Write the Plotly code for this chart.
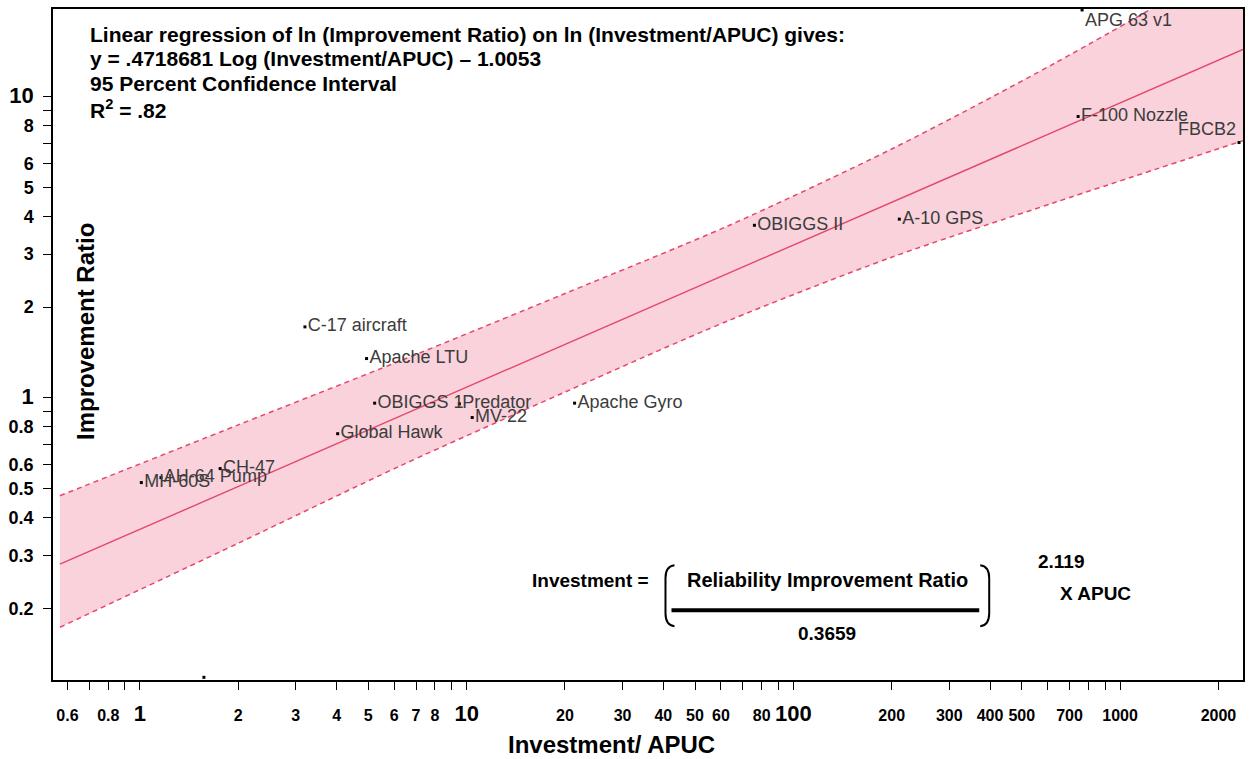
import math
import plotly.graph_objects as go

# Reliability programs: investment/APUC versus improvement ratio
programs = ["MH-60S", "AH-64 Pump", "CH-47", "C-17 aircraft", "Apache LTU", "OBIGGS 1",
            "Predator", "MV-22", "Global Hawk", "Apache Gyro", "OBIGGS II", "A-10 GPS",
            "F-100 Nozzle", "FBCB2", "APG 63 v1", ""]
investment_apuc = [1.01, 1.16, 1.76, 3.2, 4.94, 5.23, 9.5, 10.4, 4.03, 21.4, 76, 211,
                   744, 2312, 765, 1.57]
improvement_ratio = [0.523, 0.543, 0.582, 1.72, 1.35, 0.96, 0.955, 0.86, 0.76, 0.96, 3.74,
                     3.92, 8.59, 7.04, 19.4, 0.118]
label_positions = ["middle right"] * 13 + ["top left", "bottom right", "middle right"]

# Fitted model: ln(ratio) = slope * ln(investment/APUC) + intercept
slope = 0.4718681
intercept = -1.0053
fit_x = [0.569, 2378]

# 95 percent confidence band
band_x = [0.569, 2, 6.3, 20, 63, 200, 630, 2378]
band_upper = [0.473, 0.813, 1.33, 2.22, 3.72, 6.7, 12.9, 29.2]
band_lower = [0.173, 0.329, 0.596, 1.045, 1.80, 2.93, 4.45, 7.14]

# Axis ticks
x_ticks = [0.6, 0.7, 0.8, 0.9, 1, 2, 3, 4, 5, 6, 7, 8, 9, 10, 20, 30, 40, 50, 60, 70, 80, 90,
           100, 200, 300, 400, 500, 600, 700, 800, 900, 1000, 2000]
x_tick_text = ["0.6", "", "0.8", "", "1", "2", "3", "4", "5", "6", "7", "8", "", "10", "20",
               "30", "40", "50", "60", "", "80", "", "100", "200", "300", "400", "500", "",
               "700", "", "", "1000", "2000"]
y_ticks = [0.2, 0.3, 0.4, 0.5, 0.6, 0.7, 0.8, 0.9, 1, 2, 3, 4, 5, 6, 7, 8, 9, 10]
y_tick_text = ["0.2", "0.3", "0.4", "0.5", "0.6", "", "0.8", "", "1", "2", "3", "4", "5",
               "6", "", "8", "", "10"]

BIG_X = {"1", "10", "100"}
BIG_Y = {"1", "10"}
x_tick_text = [f"<span style='font-size:22px'>{t}</span>" if t in BIG_X else t
               for t in x_tick_text]
y_tick_text = [f"<span style='font-size:22px'>{t}</span>" if t in BIG_Y else t
               for t in y_tick_text]

NARROW = "Liberation Sans Narrow, Arial Narrow, Liberation Sans, Arial, sans-serif"
ARIAL = "Liberation Sans, Arial, sans-serif"
PINK_FILL = "rgb(249,210,219)"
RED = "rgb(228,72,106)"
SMOOTH = dict(shape="spline", smoothing=0.8)

W, H = 1252, 759
L, R, T, B = 53, 8, 7, 79
plot_w = W - L - R
plot_h = H - T - B


def px(x):
    return (x - L) / plot_w


def py(y):
    return (H - B - y) / plot_h


fig = go.Figure()

# Shaded confidence band
fig.add_trace(go.Scatter(x=band_x, y=band_lower, mode="lines",
                         line=dict(width=0, **SMOOTH), hoverinfo="skip"))
fig.add_trace(go.Scatter(x=band_x, y=band_upper, mode="lines", fill="tonexty",
                         fillcolor=PINK_FILL, line=dict(width=0, **SMOOTH),
                         hoverinfo="skip"))
for edge in (band_upper, band_lower):
    fig.add_trace(go.Scatter(x=band_x, y=edge, mode="lines",
                             line=dict(color=RED, width=1.5, dash="5px,4px", **SMOOTH)))

# Regression line
fit_y = [math.exp(slope * math.log(v) + intercept) for v in fit_x]
fig.add_trace(go.Scatter(x=fit_x, y=fit_y, mode="lines", line=dict(color=RED, width=1.4)))

# Program points with labels
fig.add_trace(go.Scatter(
    x=investment_apuc, y=improvement_ratio, mode="markers+text",
    text=programs, textposition=label_positions,
    textfont=dict(family=ARIAL, size=18, color="#3c3c3c"),
    marker=dict(symbol="square", size=3, color="black"),
    cliponaxis=False))

fig.update_layout(
    width=W, height=H, margin=dict(l=L, r=R, t=T, b=B),
    plot_bgcolor="white", paper_bgcolor="white", showlegend=False,
    xaxis=dict(type="log", range=[math.log10(0.542), math.log10(2378)],
               tickmode="array", tickvals=x_ticks, ticktext=x_tick_text,
               ticks="outside", ticklen=8, tickwidth=1, tickcolor="black",
               ticklabelstandoff=12,
               tickfont=dict(family=NARROW, size=16, color="black", weight="bold"),
               showline=True, linecolor="black", linewidth=1.5, mirror=True,
               showgrid=False, zeroline=False),
    yaxis=dict(type="log", range=[-0.937, 1.291],
               tickmode="array", tickvals=y_ticks, ticktext=y_tick_text,
               ticks="outside", ticklen=8, tickwidth=1, tickcolor="black",
               ticklabelstandoff=6,
               tickfont=dict(family=ARIAL, size=18, color="black", weight="bold"),
               showline=True, linecolor="black", linewidth=1.5, mirror=True,
               showgrid=False, zeroline=False),
)

ann = []


def note(text, x, y, size, family=ARIAL, xanchor="left", angle=0):
    ann.append(dict(text=text, x=px(x), y=py(y), xref="paper", yref="paper",
                    xanchor=xanchor, yanchor="middle", showarrow=False, textangle=angle,
                    font=dict(family=family, size=size, color="black", weight="bold")))


note("Linear regression of ln (Improvement Ratio) on ln (Investment/APUC) gives:", 88, 33, 21)
note("y = .4718681 Log (Investment/APUC) \u2013 1.0053", 88, 57, 21)
note("95 Percent Confidence Interval", 88, 82, 21)
note("R<sup>2</sup> = .82", 88, 107, 21)

note("Investment =", 591, 580, 19, NARROW, "center")
note("Reliability Improvement Ratio", 828, 580, 20, NARROW, "center")
note("0.3659", 828, 633, 19, NARROW, "center")
note("2.119", 1062, 561, 19, NARROW, "center")
note("X APUC", 1096, 593, 19, NARROW, "center")

note("Improvement Ratio", 85, 330, 24, ARIAL, "center", -90)
note("Investment/ APUC", 612, 745, 24, ARIAL, "center")

fig.update_layout(annotations=ann)

# Fraction bar and brackets of the investment formula
fig.add_shape(type="line", xref="paper", yref="paper",
              x0=px(672), x1=px(980), y0=py(610), y1=py(610),
              line=dict(color="black", width=4))


def paren_path(points):
    (ax, ay), (bx, by), (cx, cy), (dx, dy), (ex, ey), (fx, fy) = points
    return (f"M {px(ax)},{py(ay)} Q {px(bx)},{py(by)} {px(cx)},{py(cy)} "
            f"L {px(dx)},{py(dy)} Q {px(ex)},{py(ey)} {px(fx)},{py(fy)}")


left_paren = [(675, 565), (666, 566), (666, 578), (666, 613), (666, 625), (675, 626)]
right_paren = [(981, 565), (990, 566), (990, 578), (990, 613), (990, 625), (981, 626)]
for pts in (left_paren, right_paren):
    fig.add_shape(type="path", xref="paper", yref="paper", path=paren_path(pts),
                  line=dict(color="black", width=2))

fig.write_html("out.html")
